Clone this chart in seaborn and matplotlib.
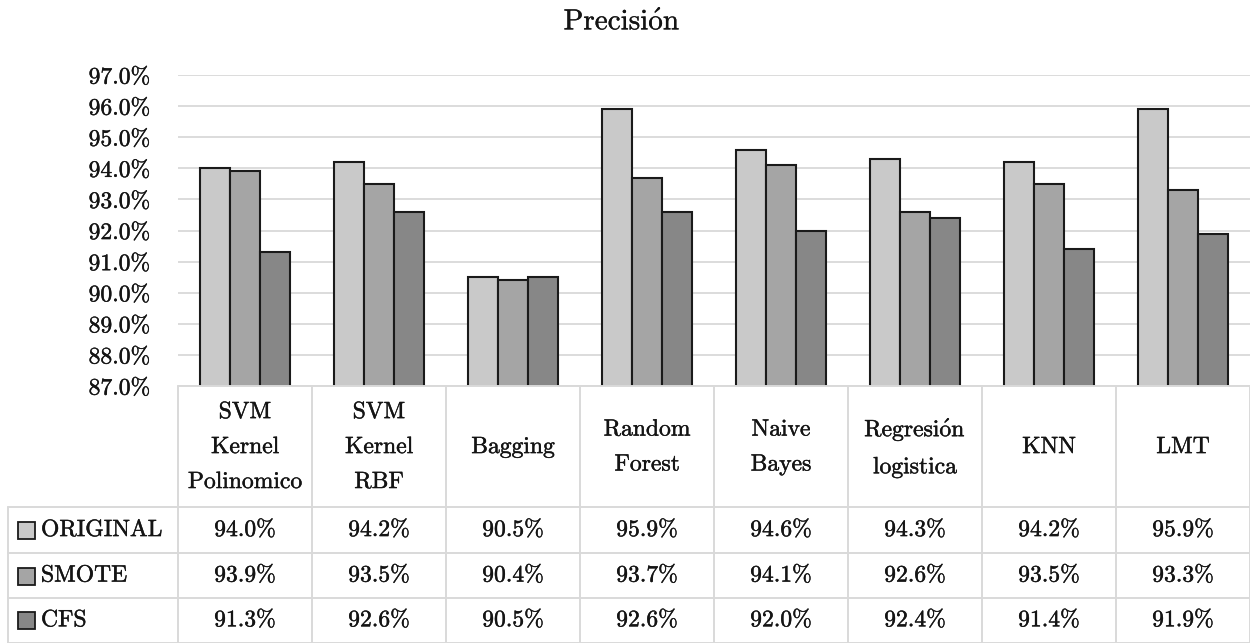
import matplotlib
matplotlib.use("Agg")
import matplotlib.pyplot as plt
import matplotlib.patheffects as pe
from matplotlib.patches import Rectangle
from matplotlib.ticker import FuncFormatter
import numpy as np
import pandas as pd
import seaborn as sns

# Models and precision per preprocessing variant (percent)
models = ["SVM\nKernel\nPolinomico", "SVM\nKernel\nRBF", "Bagging", "Random\nForest",
          "Naive\nBayes", "Regresión\nlogistica", "KNN", "LMT"]
series = ["ORIGINAL", "SMOTE", "CFS"]
original = [94.0, 94.2, 90.5, 95.9, 94.6, 94.3, 94.2, 95.9]
smote = [93.9, 93.5, 90.4, 93.7, 94.1, 92.6, 93.5, 93.3]
cfs = [91.3, 92.6, 90.5, 92.6, 92.0, 92.4, 91.4, 91.9]
colors = ["#c9c9c9", "#a5a5a5", "#878787"]
title = "Precisión"

df = pd.DataFrame({
    "model": models * 3,
    "serie": [s for s in series for _ in models],
    "precision": original + smote + cfs,
})

sns.set_theme(style="white")
plt.rcParams["font.family"] = ["cmr10", "DejaVu Serif"]
plt.rcParams["mathtext.fontset"] = "cm"
plt.rcParams["axes.formatter.use_mathtext"] = True

TXT = "#141414"
# slightly heavier strokes for the thin Computer Modern glyphs
heavy = [pe.withStroke(linewidth=0.3, foreground=TXT)]


def cm_text(s):
    # cmr10 has no precomposed accented vowels; build them with mathtext accents
    return s.replace("ó", r"$\acute{\mathrm{o}}$")


W, H = 1250, 643
fig = plt.figure(figsize=(W / 100, H / 100), dpi=100)

# pixel layout
x0, x1 = 178, 1250
y_top, y_bot = 75, 386
ax = fig.add_axes([x0 / W, 1 - y_bot / H, (x1 - x0) / W, (y_bot - y_top) / H])

sns.barplot(data=df, x="model", y="precision", hue="serie", palette=colors,
            width=0.67, gap=0, edgecolor="#1a1a1a", linewidth=1.5,
            legend=False, ax=ax, zorder=3)

ax.set_ylim(87, 97)
ax.set_xlim(-0.5, len(models) - 0.5)
ax.set_yticks(np.arange(87, 97.1, 1))
ax.yaxis.set_major_formatter(FuncFormatter(lambda v, p: f"{v:.1f}%"))
ax.grid(axis="y", color="#d9d9d9", linewidth=1.3, zorder=0)
ax.set_axisbelow(True)
for s in ax.spines.values():
    s.set_visible(False)
ax.set_xticks([])
ax.set_xlabel("")
ax.set_ylabel("")
ax.tick_params(axis="y", length=0, pad=20, labelsize=17, colors=TXT)
for lab in ax.get_yticklabels():
    lab.set_path_effects(heavy)

# overlay in pixel coordinates for title and data table
ov = fig.add_axes([0, 0, 1, 1], facecolor="none")
ov.set_xlim(0, W)
ov.set_ylim(H, 0)
ov.axis("off")

ov.text(622, 22, cm_text(title), ha="center", va="center", fontsize=21, color=TXT,
        path_effects=[pe.withStroke(linewidth=0.2, foreground=TXT)])

grid_c = "#d9d9d9"
lw = 1.4
col_w = (x1 - x0) / len(models)
row_lines = [507, 553, 598, H - 0.5]
# header row border and column separators
ov.plot([x0, x1], [y_bot, y_bot], color=grid_c, lw=lw)
for i in range(len(models) + 1):
    xx = x0 + i * col_w
    ov.plot([xx, xx], [y_bot, H], color=grid_c, lw=lw)
ov.plot([8, 8], [row_lines[0], H], color=grid_c, lw=lw)
for yy in row_lines:
    ov.plot([8, x1], [yy, yy], color=grid_c, lw=lw)

# header labels
for i, m in enumerate(models):
    ov.text(x0 + (i + 0.5) * col_w, 447, cm_text(m), ha="center", va="center",
            multialignment="center", fontsize=17, linespacing=1.75, color=TXT,
            path_effects=heavy)

# rows with legend keys
row_c = [(row_lines[k] + row_lines[k + 1]) / 2 for k in range(3)]
for k, (name, vals, c) in enumerate(zip(series, [original, smote, cfs], colors)):
    yc = row_c[k]
    ov.add_patch(Rectangle((18, yc - 8), 17, 17, facecolor=c, edgecolor="#1a1a1a", lw=1.3))
    ov.text(41, yc, name, ha="left", va="center", fontsize=17, color=TXT,
            path_effects=heavy)
    for i, v in enumerate(vals):
        ov.text(x0 + (i + 0.5) * col_w, yc, f"{v:.1f}%", ha="center", va="center",
                fontsize=17, color=TXT, path_effects=heavy)

fig.savefig("out.png", dpi=100, facecolor="white")
